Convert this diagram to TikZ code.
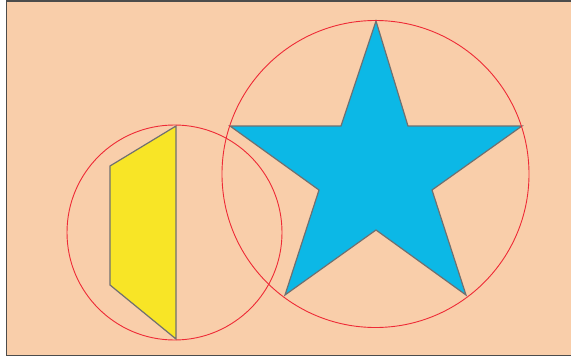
\documentclass[tikz,border=0pt]{standalone}
\definecolor{peach}{HTML}{F9CEAA}
\definecolor{starblue}{HTML}{0CB8E6}
\definecolor{yel}{HTML}{F8E526}
\definecolor{circred}{HTML}{EE2A36}
\definecolor{edgegray}{HTML}{707070}
\begin{document}
\begin{tikzpicture}[x=1pt,y=-1pt,
  polyshape/.style={draw=edgegray,line width=1.2pt,line join=miter},
  ring/.style={draw=circred,line width=0.9pt}]
\useasboundingbox (0,0) rectangle (571,359);
\fill[white] (0,0) rectangle (571,359);
\draw[fill=peach,draw=black!70,line width=1.5pt] (6.5,1) rectangle (573,355.5);
\filldraw[fill=yel,polyshape] (176,126) -- (110,166) -- (110,285) -- (176,339) -- cycle;
\filldraw[fill=starblue,polyshape] (376,21) -- (408,126) -- (522,126) -- (432,190) -- (466,295) -- (376,230) -- (285,295) -- (319,190) -- (230,126) -- (341,126) -- cycle;
\draw[ring] (174.5,232.5) circle (107.5);
\draw[ring] (375.5,174) circle (153.5);
\end{tikzpicture}
\end{document}
